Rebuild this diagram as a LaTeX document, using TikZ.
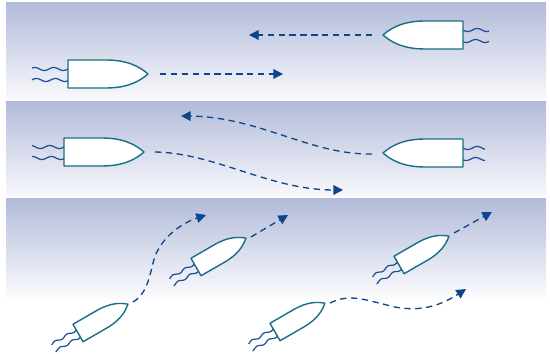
\documentclass[tikz,border=0pt]{standalone}
\usetikzlibrary{arrows.meta}
\definecolor{seablue}{RGB}{178,187,217}
\definecolor{seawhite}{RGB}{249,249,252}
\definecolor{hullteal}{RGB}{22,112,132}
\definecolor{wakeblue}{RGB}{30,78,150}
\definecolor{pathblue}{RGB}{12,70,140}
\begin{document}
\begin{tikzpicture}[x=0.02cm,y=-0.02cm,
  panel/.style={top color=seablue,bottom color=seawhite,draw=none},
  hull/.style={draw=hullteal,fill=white,line width=0.8pt,line join=round},
  wake/.style={draw=wakeblue,line width=0.7pt},
  course/.style={draw=pathblue,dash pattern=on 3.6pt off 2.6pt,line width=0.75pt,-{Triangle[length=5.5pt,width=5.5pt]}},
  pics/boat/.style={code={
    \draw[wake] plot[domain=0:#1,samples=40,smooth] (-\x,{-5+1.5*sin(\x*19)});
    \draw[wake] plot[domain=0:#1,samples=40,smooth] (-\x,{6+1.5*sin(\x*19+30)});
    \draw[hull] (0,-14) -- (38,-14) .. controls (60,-14) and (72,-7) .. (80,0)
      .. controls (72,7) and (60,14) .. (38,14) -- (0,14) -- cycle;
  }}]
\useasboundingbox (0,0) rectangle (550,354);
\shade[panel] (6,3) rectangle (546,99);
\shade[panel] (6,102) rectangle (546,196);
\shade[panel,bottom color=white] (6,199) rectangle (546,302);

\pic[xscale=-1] at (463,35) {boat=26};
\pic at (68,74) {boat=36};
\pic at (64,152) {boat=32};
\pic[xscale=-1] at (463,153) {boat=22};
\pic[rotate=30,scale=0.72] at (78,333) {boat=40};
\pic[rotate=30,scale=0.72] at (196,267) {boat=40};
\pic[rotate=30,scale=0.72] at (399,265) {boat=40};
\pic[rotate=30,scale=0.72] at (275,332) {boat=40};

\coordinate (a1) at (372,35);   \coordinate (b1) at (249,35);
\coordinate (a2) at (160,74);   \coordinate (b2) at (283,74);
\coordinate (a3) at (155,152);  \coordinate (b3) at (343,190);
\coordinate (a4) at (372,154);  \coordinate (b4) at (181,116);
\coordinate (a5) at (133,302);  \coordinate (b5) at (206,215);
\coordinate (a6) at (251,237);  \coordinate (b6) at (288,215);
\coordinate (a7) at (454,233);  \coordinate (b7) at (492,212);
\coordinate (a8) at (330,303);  \coordinate (b8) at (466,289);

\draw[course] (a1) -- (b1);
\draw[course] (a2) -- (b2);
\draw[course] (a3) .. controls (215,153) and (270,190) .. (b3);
\draw[course] (a4) .. controls (310,155) and (260,117) .. (b4);
\draw[course] (a5) .. controls (152,291) and (150,262) .. (158,250)
  .. controls (167,233) and (185,222) .. (b5);
\draw[course] (a6) -- (b6);
\draw[course] (a7) -- (b7);
\draw[course] (a8) .. controls (350,293) and (365,300) .. (395,307)
  .. controls (425,313) and (446,302) .. (b8);
\end{tikzpicture}
\end{document}
